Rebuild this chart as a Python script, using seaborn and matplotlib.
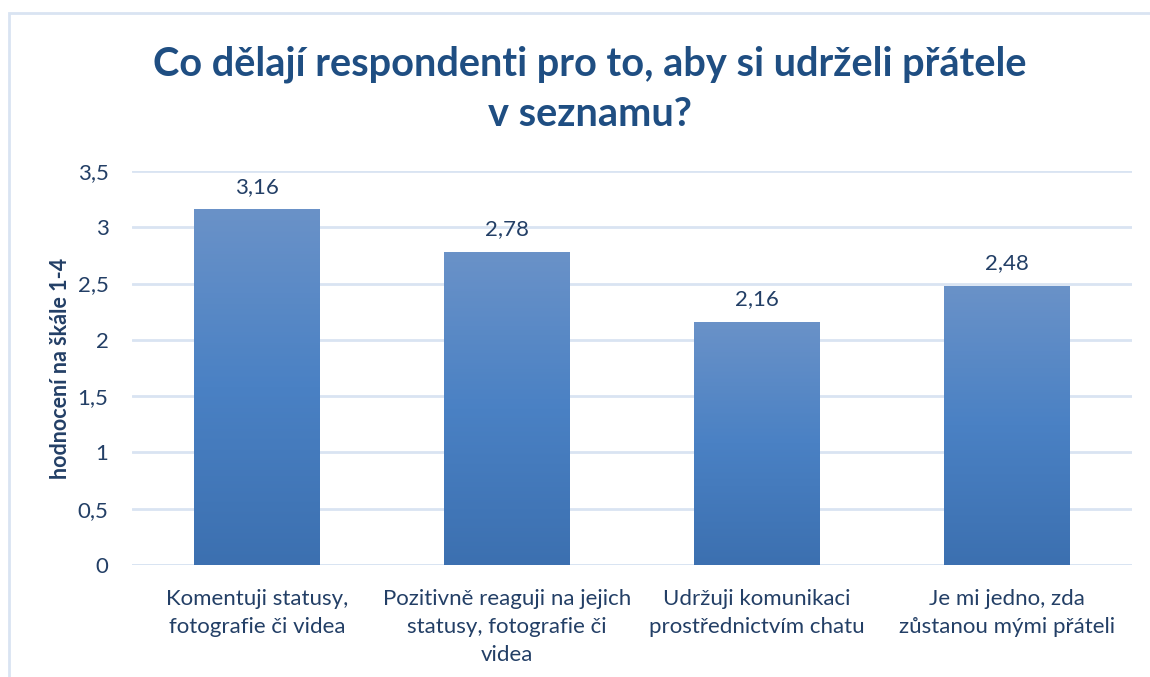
import matplotlib

matplotlib.use("Agg")

import matplotlib.pyplot as plt
import numpy as np
import pandas as pd
import seaborn as sns
from matplotlib.colors import LinearSegmentedColormap
from matplotlib.patches import Rectangle


TITLE = "Co dělají respondenti pro to, aby si udrželi přátele\nv seznamu?"
Y_LABEL = "hodnocení na škále 1-4"

categories = [
    "Komentuji statusy,\nfotografie či videa",
    "Pozitivně reaguji na jejich\nstatusy, fotografie či\nvidea",
    "Udržuji komunikaci\nprostřednictvím chatu",
    "Je mi jedno, zda\nzůstanou mými přáteli",
]
scores = [3.16, 2.78, 2.16, 2.48]
y_ticks = [0, 0.5, 1, 1.5, 2, 2.5, 3, 3.5]

TEXT = "#233f66"
TITLE_COLOR = "#1f4e82"
GRID = "#d9e4f2"


def cz(v, digits=None):
    if digits is not None:
        return f"{v:.{digits}f}".replace(".", ",")
    return f"{v:g}".replace(".", ",")


sns.set_theme(style="white")
plt.rcParams["font.family"] = ["Lato", "DejaVu Sans"]

df = pd.DataFrame({"category": categories, "score": scores})

fig = plt.figure(figsize=(11.5, 6.77), dpi=100)
ax = fig.add_axes([0.1148, 0.1654, 0.8695, 0.582])

sns.barplot(data=df, x="category", y="score", color="#4a80c2", width=0.504, ax=ax)
ax.set_xlim(-0.5, len(categories) - 0.5)
ax.set_ylim(0, 3.5)

# gradient fill for the bars
cmap = LinearSegmentedColormap.from_list("bar", ["#3c70b0", "#4a81c4", "#6a92c8"])
grad = np.linspace(0, 1, 256).reshape(-1, 1)
for patch in ax.patches:
    x0, y0 = patch.get_x(), patch.get_y()
    w, h = patch.get_width(), patch.get_height()
    im = ax.imshow(grad, cmap=cmap, origin="lower", aspect="auto",
                   extent=[x0, x0 + w, y0, y0 + h], zorder=2)
    im.set_clip_path(patch)
    patch.set_facecolor("none")
    patch.set_edgecolor("none")
ax.set_xlim(-0.5, len(categories) - 0.5)
ax.set_ylim(0, 3.5)

for i, v in enumerate(scores):
    ax.annotate(cz(v, 2), (i, v), xytext=(0, 9), textcoords="offset points",
                ha="center", va="bottom", fontsize=16, color=TEXT)

ax.set_yticks(y_ticks)
ax.set_yticklabels([cz(t) for t in y_ticks])
ax.yaxis.grid(True, color=GRID, linewidth=2)
ax.set_axisbelow(True)
for s in ax.spines.values():
    s.set_visible(False)
ax.axhline(0, color=GRID, linewidth=2, zorder=1)

ax.tick_params(axis="y", length=0, pad=17, labelsize=16, labelcolor=TEXT)
ax.tick_params(axis="x", length=0, pad=17, labelsize=16, labelcolor=TEXT)
for lbl in ax.get_xticklabels():
    lbl.set_linespacing(1.5)
    lbl.set_va("top")

ax.set_xlabel("")
ax.set_ylabel(Y_LABEL, fontsize=15.5, fontweight="bold", color=TEXT, labelpad=5)

fig.text(0.513, 0.868, TITLE, ha="center", va="center", fontsize=28.6,
         fontweight="bold", color=TITLE_COLOR, linespacing=1.45)

# light frame around the chart area
fig.patches.append(Rectangle((9 / 1150, -0.05), 1.1, 1 - 13 / 677 + 0.05,
                             transform=fig.transFigure, fill=False,
                             edgecolor=GRID, linewidth=2))

fig.savefig("out.png", dpi=100)
